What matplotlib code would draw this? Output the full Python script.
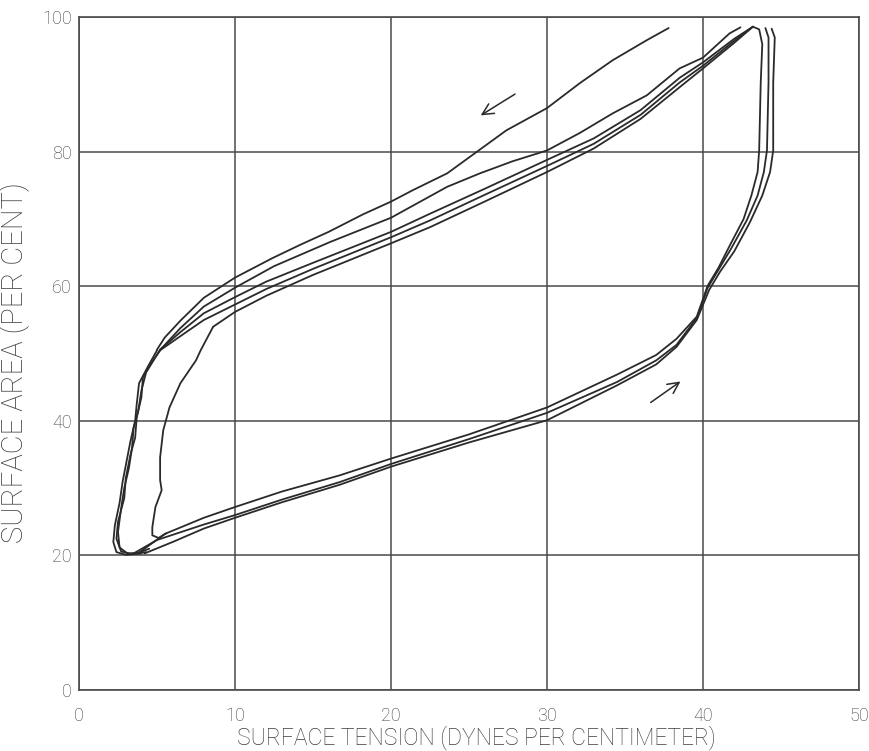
import matplotlib
matplotlib.use("Agg")
import matplotlib.pyplot as plt

# Surface tension (dynes/cm) vs. surface area (%) for repeated compression /
# expansion cycles of a surface film.

# Outermost compression trace (starts part-way up, at 37.8 dynes/cm)
comp_a_x = [37.8, 36.4, 34.2, 32.1, 30.0, 27.4, 25.5, 23.6, 21.4, 20.0, 18.2, 16.0, 14.2, 12.4, 10.0, 8.0, 6.5, 5.5, 5.0]
comp_a_y = [98.4, 96.6, 93.6, 90.2, 86.5, 83.2, 80.0, 76.8, 74.3, 72.6, 70.7, 68.1, 66.2, 64.2, 61.3, 58.3, 54.9, 52.4, 50.6]

# Second compression trace
comp_b_x = [42.4, 41.7, 40.0, 38.5, 36.4, 34.2, 32.1, 30.0, 27.8, 25.7, 23.6, 20.0, 16.1, 12.5, 10.0, 8.0, 6.5, 5.3]
comp_b_y = [98.5, 97.6, 94.0, 92.4, 88.4, 85.7, 82.8, 80.2, 78.6, 76.8, 74.8, 70.2, 66.6, 63.0, 59.8, 57.0, 53.8, 50.8]

# Main bundle of compression traces leaving the top of the loop
comp_x = [43.2, 42.0, 40.0, 38.5, 36.0, 33.0, 30.0, 26.0, 22.5, 20.0, 15.0, 12.0, 10.0, 8.0, 6.5, 5.2]
comp_c_y = [98.6, 96.8, 93.3, 91.0, 86.2, 82.0, 78.8, 74.5, 70.8, 68.1, 63.5, 60.7, 58.4, 56.0, 53.2, 50.6]
comp_d_y = [98.6, 96.5, 92.8, 90.3, 85.5, 81.2, 77.9, 73.6, 69.8, 67.3, 62.6, 59.6, 57.3, 55.0, 52.6, 50.5]
comp_e_x = [43.2, 42.0, 40.0, 38.5, 36.0, 33.0, 30.0, 26.0, 22.5, 20.0, 15.0, 12.0, 10.0, 8.6]
comp_e_y = [98.6, 96.2, 92.4, 89.6, 84.9, 80.5, 77.0, 72.6, 68.8, 66.4, 61.7, 58.6, 56.2, 54.0]

# Inner compression branch that drops away from the bundle
inner_x = [8.6, 7.8, 7.5, 6.5, 5.8, 5.4, 5.2, 5.2, 5.3, 4.9, 4.7, 4.7, 5.1, 5.6]
inner_y = [54.0, 50.5, 49.0, 45.6, 42.0, 38.6, 34.6, 31.2, 29.7, 27.2, 24.2, 23.0, 22.6, 23.3]

# Steep low-tension descent at the left of the loop (overlapping traces)
desc_1_x = [5.0, 4.4, 3.85, 3.7, 3.6, 3.3, 3.1, 2.8, 2.6, 2.3, 2.2, 2.4, 3.0, 4.0]
desc_1_y = [50.5, 48.0, 45.6, 42.5, 40.0, 37.0, 34.6, 31.0, 27.8, 24.5, 22.0, 20.5, 20.1, 20.3]
desc_2_x = [5.3, 4.6, 4.1, 4.0, 3.7, 3.6, 3.3, 3.0, 2.9, 2.5, 2.4, 2.7, 3.4, 4.3]
desc_2_y = [50.8, 48.5, 46.5, 43.5, 40.5, 37.5, 35.0, 31.5, 28.5, 25.0, 22.5, 20.6, 20.2, 20.5]
desc_3_x = [5.2, 4.3, 4.0, 3.8, 3.5, 3.4, 3.2, 2.9, 2.7, 2.5, 2.6, 3.1, 3.8, 4.5]
desc_3_y = [50.6, 47.2, 44.5, 41.5, 39.0, 36.0, 33.0, 30.0, 27.0, 23.5, 21.2, 20.3, 20.4, 21.0]

# Expansion traces (rising tension back up to the top of the loop)
exp_1_x = [3.9, 5.5, 8.0, 10.0, 13.0, 16.7, 20.0, 25.0, 30.0, 34.5, 37.0, 38.3, 39.6, 40.3, 41.0, 41.7, 42.6, 43.1, 43.5, 43.6, 43.7, 43.8, 43.6, 43.2]
exp_1_y = [20.5, 23.2, 25.6, 27.2, 29.5, 31.9, 34.4, 38.0, 42.0, 46.9, 49.8, 52.2, 55.5, 60.1, 62.8, 66.0, 70.0, 73.5, 77.0, 80.2, 90.3, 96.0, 98.2, 98.6]
exp_2_x = [3.5, 5.0, 8.0, 10.0, 13.0, 16.7, 20.0, 25.0, 30.0, 34.5, 37.0, 38.3, 39.6, 40.3, 41.0, 41.8, 42.8, 43.5, 43.9, 44.1, 44.2, 44.2, 44.0]
exp_2_y = [20.3, 22.3, 24.6, 26.0, 28.3, 30.9, 33.6, 37.3, 41.2, 45.8, 49.0, 51.3, 55.3, 59.8, 62.5, 65.6, 69.8, 73.5, 77.0, 80.2, 90.3, 97.0, 98.4]
exp_3_x = [4.2, 6.0, 8.0, 10.0, 13.0, 16.7, 20.0, 25.0, 30.0, 34.5, 37.0, 38.3, 39.6, 40.4, 41.1, 42.0, 43.0, 43.8, 44.3, 44.5, 44.5, 44.6, 44.4]
exp_3_y = [20.3, 22.0, 24.0, 25.6, 27.9, 30.5, 33.2, 36.8, 40.1, 45.3, 48.4, 51.0, 55.0, 59.5, 62.2, 65.2, 69.5, 73.5, 77.0, 80.2, 90.3, 97.0, 98.3]

# Direction arrows (tail, head)
arrow_down = [(28.1, 88.8), (25.6, 85.2)]
arrow_up = [(36.5, 42.5), (38.7, 46.1)]

x_ticks = [0, 10, 20, 30, 40, 50]
y_ticks = [0, 20, 40, 60, 80, 100]

ink = "#2a2a2a"
grid_ink = "#4a4a4a"
label_ink = "#3c3c3c"

plt.rcParams["font.family"] = ["Roboto", "DejaVu Sans"]

fig = plt.figure(figsize=(8.69, 7.51), dpi=100)
ax = fig.add_axes([0.0909, 0.0812, 0.8976, 0.8958])

ax.set_xlim(0, 50)
ax.set_ylim(0, 100)
ax.set_xticks(x_ticks)
ax.set_yticks(y_ticks)
ax.grid(True, color=grid_ink, lw=1.1)
ax.set_axisbelow(True)
for s in ax.spines.values():
    s.set_color(grid_ink)
    s.set_linewidth(1.2)
ax.tick_params(length=0, labelsize=13, colors=label_ink, labelcolor=label_ink)
ax.tick_params(axis="x", pad=12)
ax.tick_params(axis="y", pad=5)
for lab in ax.get_xticklabels() + ax.get_yticklabels():
    lab.set_fontweight("light")

lw = 1.3
curves = [
    (comp_a_x, comp_a_y), (comp_b_x, comp_b_y),
    (comp_x, comp_c_y), (comp_x, comp_d_y), (comp_e_x, comp_e_y),
    (inner_x, inner_y),
    (desc_1_x, desc_1_y), (desc_2_x, desc_2_y), (desc_3_x, desc_3_y),
    (exp_1_x, exp_1_y), (exp_2_x, exp_2_y), (exp_3_x, exp_3_y),
]
for cx, cy in curves:
    ax.plot(cx, cy, color=ink, lw=lw, solid_joinstyle="round", solid_capstyle="round")

for (tx, ty), (hx, hy) in [arrow_down, arrow_up]:
    ax.annotate("", xy=(hx, hy), xytext=(tx, ty),
                arrowprops=dict(arrowstyle="->", color=ink, lw=1.1, mutation_scale=20))

ax.set_xlabel("SURFACE TENSION (DYNES PER CENTIMETER)", fontsize=16.5,
              color=label_ink, fontweight="light", va="center")
ax.xaxis.set_label_coords(0.509, -0.071)
ax.set_ylabel("SURFACE AREA (PER CENT)", fontsize=21,
              color=label_ink, fontweight="light", va="center")
ax.yaxis.set_label_coords(-0.082, 0.487)

fig.savefig("out.png", dpi=100, facecolor="white")
